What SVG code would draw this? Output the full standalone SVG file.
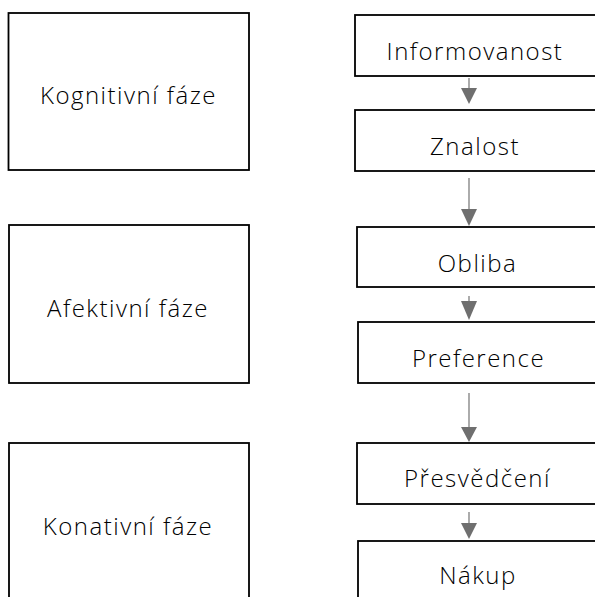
<svg xmlns="http://www.w3.org/2000/svg" width="595" height="597" viewBox="0 0 595 597">
<defs>
<style>
.box{fill:#fff;stroke:#000;stroke-width:1.8}
.lbl{font-family:"Open Sans","Noto Sans",sans-serif;font-size:24px;font-weight:300;fill:#000;text-anchor:middle;letter-spacing:1.5px}
.conn{stroke:#7f7f7f;stroke-width:1.3;fill:none}
.head{fill:#6f6f6f}
</style>
</defs>
<rect width="595" height="597" fill="#fff"/>
<g id="kognitivni"><rect class="box" x="8.5" y="13" width="240.5" height="157"/><text class="lbl" x="128.5" y="104">Kognitivní fáze</text></g>
<g id="afektivni"><rect class="box" x="9" y="225" width="240" height="158"/><text class="lbl" x="128" y="317">Afektivní fáze</text></g>
<g id="konativni"><rect class="box" x="9" y="443" width="240" height="160"/><text class="lbl" x="128" y="535">Konativní fáze</text></g>
<g id="informovanost"><rect class="box" x="355" y="15" width="245" height="61"/><text class="lbl" x="475" y="60">Informovanost</text></g>
<g id="znalost"><rect class="box" x="355" y="110" width="245" height="61"/><text class="lbl" x="475" y="155">Znalost</text></g>
<g id="obliba"><rect class="box" x="357" y="227" width="245" height="60"/><text class="lbl" x="477.5" y="272">Obliba</text></g>
<g id="preference"><rect class="box" x="358" y="322" width="245" height="61"/><text class="lbl" x="478.5" y="367">Preference</text></g>
<g id="presvedceni"><rect class="box" x="357" y="443" width="245" height="61"/><text class="lbl" x="477.5" y="487">Přesvědčení</text></g>
<g id="nakup"><rect class="box" x="358" y="541" width="245" height="65"/><text class="lbl" x="478" y="584">Nákup</text></g>
<g id="connectors">
<line class="conn" x1="469" y1="78" x2="469" y2="90"/><polygon class="head" points="461,88 477,88 469,104"/>
<line class="conn" x1="469" y1="178" x2="469" y2="212"/><polygon class="head" points="461,209 477,209 469,226"/>
<line class="conn" x1="469" y1="296" x2="469" y2="304"/><polygon class="head" points="461,301 477,301 469,320"/>
<line class="conn" x1="469" y1="393" x2="469" y2="430"/><polygon class="head" points="461,427 477,427 469,442"/>
<line class="conn" x1="469" y1="512" x2="469" y2="526"/><polygon class="head" points="461,523 477,523 469,539"/>
</g>
</svg>
